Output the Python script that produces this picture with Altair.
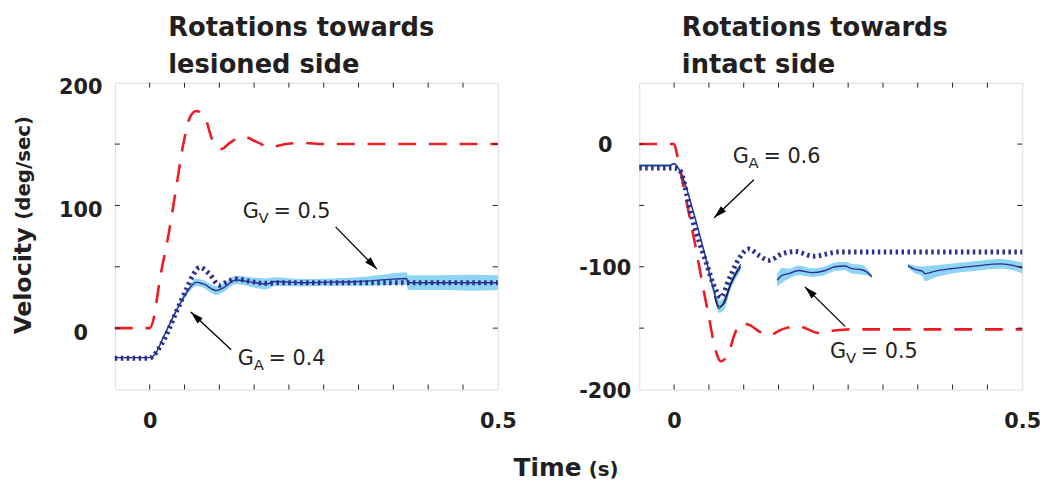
import math
import altair as alt
import pandas as pd

# ---------------- data ----------------
X_DOMAIN = [-0.05, 0.5]
L_DOMAIN = [-50, 200]
R_DOMAIN = [-200, 50]
X_LABELS = [0, 0.5]
L_YLABELS = [0, 100, 200]
R_YLABELS = [-200, -100, 0]
X_TICKS = [0.0, 0.05, 0.1, 0.15, 0.2, 0.25, 0.3, 0.35, 0.4, 0.45]
L_YTICKS = [0, 50, 100, 150]
R_YTICKS = [-150, -100, -50, 0]

# Left panel: rotations towards lesioned side
L_red_t = [-0.05, 0.0, 0.005, 0.015, 0.027, 0.038, 0.048, 0.058, 0.067, 0.079, 0.091, 0.103,
           0.115, 0.134, 0.153, 0.172, 0.196, 0.22, 0.25, 0.5]
L_red_v = [0, 0, 6, 41, 76, 114, 149, 172, 177, 172, 152, 146, 151, 156, 152, 147.5, 150, 151,
           150, 150]

L_dot_t = [-0.05, 0.0, 0.006, 0.02, 0.038, 0.053, 0.062, 0.072, 0.086, 0.1, 0.112, 0.124, 0.145,
           0.165, 0.19, 0.25, 0.35, 0.45, 0.5]
L_dot_v = [-24.5, -24.5, -22, -10, 13, 32, 43, 49.5, 44, 35, 38, 40, 38, 36.5, 37, 37, 37, 37, 37]

L_sol_t = [-0.05, 0.0, 0.008, 0.02, 0.0385, 0.053, 0.067, 0.077, 0.096, 0.107, 0.124, 0.148,
           0.167, 0.181, 0.22, 0.26, 0.3, 0.34, 0.369, 0.371, 0.42, 0.46, 0.5]
L_sol_v = [-24, -24, -21, -7, 14.5, 29, 37.3, 36, 30.6, 33.3, 39.2, 37.3, 36, 38, 37, 37.5, 38,
           39.5, 40.5, 37, 37, 37, 37]
L_sol_sd = [0.5, 0.5, 1, 1.5, 2, 2.5, 3, 3, 3.5, 3.5, 3.5, 4, 4.5, 3.5, 3, 3, 3.5, 4.5, 5, 6, 6,
            6.5, 6]
L_sol_seg = [1] * len(L_sol_t)

# Right panel: rotations towards intact side
R_red_t = [-0.05, 0.0, 0.004, 0.012, 0.022, 0.032, 0.041, 0.05, 0.0575, 0.067, 0.077, 0.0885,
           0.098, 0.11, 0.122, 0.136, 0.155, 0.179, 0.2075, 0.23, 0.255, 0.5]
R_red_v = [0, 0, -8, -30, -58.6, -87, -115, -141, -163, -177, -172, -152.6, -146, -148, -152.7,
           -156, -151, -148.6, -154, -152, -151, -151]

R_dot_t = [-0.05, 0.0, 0.0076, 0.026, 0.0457, 0.06, 0.067, 0.079, 0.093, 0.107, 0.122, 0.136,
           0.155, 0.174, 0.2, 0.236, 0.35, 0.45, 0.5]
R_dot_v = [-19.6, -19.6, -21, -61, -96, -119, -125, -110, -93.5, -85.5, -90.8, -94.8, -89.5,
           -87.6, -91.4, -88, -88, -88, -88]

R_sol_t = [-0.05, -0.007, 0.0, 0.01, 0.0266, 0.0457, 0.0575, 0.0647, 0.0718, 0.081, 0.0956,
           0.148, 0.155, 0.165, 0.179, 0.198, 0.217, 0.231, 0.245, 0.255, 0.27, 0.276, 0.284,
           0.336, 0.345, 0.357, 0.36, 0.374, 0.397, 0.431, 0.469, 0.488, 0.5]
R_sol_v = [-17.5, -17.5, -16, -23.6, -53, -93.5, -120.4, -132.5, -130, -115, -100,
           -111, -107, -105.6, -103, -104.8, -103, -100, -99.4, -101.5, -102.4, -104, -108,
           -99, -102, -103.7, -105.6, -103.7, -101.6, -99.5, -97.6, -99, -101]
R_sol_sd = [1, 1, 1, 1.5, 2, 3, 4, 5, 5, 4, 3,
            5, 6, 4, 4, 3.5, 3.5, 3.5, 3.5, 4, 4, 3, 1.5,
            1.5, 3, 4, 6, 5, 4, 4, 4, 4, 4.5]
R_sol_seg = [1] * 11 + [2] * 12 + [3] * 10

# thin black trace visible along the rebound of the right-hand response
R_blk_t = [0.058, 0.0647, 0.0718, 0.081, 0.0956]
R_blk_v = [-124, -134, -128, -114, -98]

# Annotations (text anchor and arrow tail -> tip, in data units)
L_ann_t = [0.1337, 0.1266]
L_ann_v = [89.8, -29.8]
L_ann_sub = ["V", "A"]
L_ann_val = ["= 0.5", "= 0.4"]
L_arr_t0 = [0.267, 0.117]
L_arr_v0 = [82.5, -17.7]
L_arr_t1 = [0.3264, 0.059]
L_arr_v1 = [48.1, 13.1]

R_ann_t = [0.0842, 0.224]
R_ann_v = [-15.6, -174.2]
R_ann_sub = ["A", "V"]
R_ann_val = ["= 0.6", "= 0.5"]
R_arr_t0 = [0.1146, 0.2455]
R_arr_v0 = [-29.0, -148.6]
R_arr_t1 = [0.0575, 0.188]
R_arr_v1 = [-60.0, -116.4]

L_TITLE = ["Rotations towards", "lesioned side"]
R_TITLE = ["Rotations towards", "intact side"]

# ---------------- styling ----------------
W, H = 387, 310
RED = "#ec1c24"
NAVY = "#2b2f8f"
BAND = "#8dd4f5"
INK = "#231f20"
BOLDFONT = "DejaVu Sans"
ANNFONT = "DejaVu Sans"
ONE = pd.DataFrame({"a": [0]})


def panel(ydom, ylabels, yticks, red, dot, sol, ann, arr, title, title_dx, label_off,
          left=False, black=None):
    xs = alt.Scale(domain=X_DOMAIN, nice=False, zero=False)
    ys = alt.Scale(domain=ydom, nice=False, zero=False)
    xaxis = alt.Axis(values=X_LABELS, labelExpr="'' + datum.value", title=None, grid=False,
                     ticks=False, domain=False, labelFont=BOLDFONT, labelFontWeight="bold",
                     labelFontSize=21, labelPadding=21, labelColor=INK, labelFlush=False)
    yaxis = alt.Axis(values=ylabels, labelExpr="'' + datum.value", title=None, grid=False,
                     ticks=False, domain=False, labelFont=BOLDFONT, labelFontWeight="bold",
                     labelFontSize=21, labelPadding=35, labelAlign="center",
                     labelBaseline="middle", labelOffset=label_off, labelColor=INK)

    def X(f):
        return alt.X(f"{f}:Q", scale=xs, axis=xaxis)

    def Y(f):
        return alt.Y(f"{f}:Q", scale=ys, axis=yaxis)

    red_df = pd.DataFrame({"t": red[0], "v": red[1]})
    dot_df = pd.DataFrame({"t": dot[0], "v": dot[1]})
    sol_df = pd.DataFrame({"t": sol[0], "v": sol[1], "sd": sol[2], "seg": sol[3]})
    sol_df["lo"] = sol_df["v"] - sol_df["sd"]
    sol_df["hi"] = sol_df["v"] + sol_df["sd"]

    band = alt.Chart(sol_df).mark_area(color=BAND, interpolate="monotone").encode(
        x=X("t"), y=Y("lo"), y2="hi", detail="seg:N")
    red_l = alt.Chart(red_df).mark_line(color=RED, strokeWidth=2.6, strokeDash=[18, 13],
                                        interpolate="monotone").encode(x=X("t"), y=Y("v"))
    sol_l = alt.Chart(sol_df).mark_line(color=NAVY, strokeWidth=1.4,
                                        interpolate="monotone").encode(
        x=X("t"), y=Y("v"), detail="seg:N")
    dot_l = alt.Chart(dot_df).mark_line(color=NAVY, strokeWidth=5, strokeDash=[2.5, 3.5],
                                        interpolate="monotone").encode(x=X("t"), y=Y("v"))

    xt_df = pd.DataFrame({"t": X_TICKS})
    yt_df = pd.DataFrame({"v": yticks})
    tb = alt.Chart(xt_df).mark_rule(color=INK, strokeWidth=1).encode(
        x=X("t"), y=alt.value(H), y2=alt.value(H - 5))
    tt = alt.Chart(xt_df).mark_rule(color=INK, strokeWidth=1).encode(
        x=X("t"), y=alt.value(0), y2=alt.value(5))
    tl = alt.Chart(yt_df).mark_rule(color=INK, strokeWidth=1).encode(
        y=Y("v"), x=alt.value(0), x2=alt.value(5))
    tr = alt.Chart(yt_df).mark_rule(color=INK, strokeWidth=1).encode(
        y=Y("v"), x=alt.value(W - 5), x2=alt.value(W))

    ann_df = pd.DataFrame({"t": ann[0], "v": ann[1], "sub": ann[2], "val": ann[3]})
    g_txt = alt.Chart(ann_df).mark_text(align="left", baseline="alphabetic", font=ANNFONT,
                                        fontSize=21, color=INK).encode(
        x=X("t"), y=Y("v"), text=alt.value("G"))
    s_txt = alt.Chart(ann_df).mark_text(align="left", baseline="alphabetic", font=ANNFONT,
                                        fontSize=15, color=INK, dx=16, dy=5).encode(
        x=X("t"), y=Y("v"), text="sub:N")
    v_txt = alt.Chart(ann_df).mark_text(align="left", baseline="alphabetic", font=ANNFONT,
                                        fontSize=21, color=INK, dx=31).encode(
        x=X("t"), y=Y("v"), text="val:N")

    arr_df = pd.DataFrame({"t": arr[0], "v": arr[1], "t2": arr[2], "v2": arr[3]})
    px_t = W / (X_DOMAIN[1] - X_DOMAIN[0])
    px_v = H / (ydom[1] - ydom[0])
    arr_df["ang"] = [
        math.degrees(math.atan2((b - a) * px_t, (d - c) * px_v)) % 360
        for a, b, c, d in zip(arr_df["t"], arr_df["t2"], arr_df["v"], arr_df["v2"])
    ]
    shaft = alt.Chart(arr_df).mark_rule(color="black", strokeWidth=1.3).encode(
        x=X("t"), y=Y("v"), x2="t2", y2="v2")
    head = alt.Chart(arr_df).mark_point(shape="M0,0L0.75,2.6L-0.75,2.6Z", filled=True,
                                        color="black", opacity=1, size=100).encode(
        x=X("t2"), y=Y("v2"), angle=alt.Angle("ang:Q", scale=None))

    ttl = alt.Chart(ONE).mark_text(align="left", baseline="alphabetic", font=BOLDFONT,
                                   fontWeight="bold", fontSize=26, lineHeight=37,
                                   color=INK).encode(
        x=alt.value(title_dx), y=alt.value(-47), text=alt.value(title))

    layers = [band, red_l, sol_l]
    if black is not None:
        blk_df = pd.DataFrame({"t": black[0], "v": black[1]})
        layers.append(alt.Chart(blk_df).mark_line(color="black", strokeWidth=1,
                                                  interpolate="monotone").encode(
            x=X("t"), y=Y("v")))
    layers += [dot_l, tb, tt, tl, tr, shaft, head, g_txt, s_txt, v_txt, ttl]

    if left:
        vel = alt.Chart(ONE).mark_text(angle=270, align="center", baseline="alphabetic",
                                       font=BOLDFONT, fontWeight="bold", fontSize=24,
                                       color=INK).encode(
            x=alt.value(-85), y=alt.value(200), text=alt.value("Velocity"))
        unit = alt.Chart(ONE).mark_text(angle=270, align="center", baseline="alphabetic",
                                        font=BOLDFONT, fontWeight="bold", fontSize=20,
                                        color=INK).encode(
            x=alt.value(-86), y=alt.value(86), text=alt.value("(deg/sec)"))
        time = alt.Chart(ONE).mark_text(align="left", baseline="alphabetic", font=BOLDFONT,
                                        fontWeight="bold", fontSize=25, color=INK).encode(
            x=alt.value(403), y=alt.value(397), text=alt.value("Time"))
        secs = alt.Chart(ONE).mark_text(align="left", baseline="alphabetic", font=BOLDFONT,
                                        fontWeight="bold", fontSize=20, color=INK).encode(
            x=alt.value(479), y=alt.value(397), text=alt.value("(s)"))
        layers += [vel, unit, time, secs]

    return alt.layer(*layers).properties(width=W, height=H)


left = panel(L_DOMAIN, L_YLABELS, L_YTICKS,
             (L_red_t, L_red_v), (L_dot_t, L_dot_v), (L_sol_t, L_sol_v, L_sol_sd, L_sol_seg),
             (L_ann_t, L_ann_v, L_ann_sub, L_ann_val),
             (L_arr_t0, L_arr_v0, L_arr_t1, L_arr_v1), L_TITLE, 54, 5, left=True)
right = panel(R_DOMAIN, R_YLABELS, R_YTICKS,
              (R_red_t, R_red_v), (R_dot_t, R_dot_v), (R_sol_t, R_sol_v, R_sol_sd, R_sol_seg),
              (R_ann_t, R_ann_v, R_ann_sub, R_ann_val),
              (R_arr_t0, R_arr_v0, R_arr_t1, R_arr_v1), R_TITLE, 43, 2,
              black=(R_blk_t, R_blk_v))

chart = alt.hconcat(left, right, spacing=143, bounds="flush").properties(
    padding={"left": 3, "top": 4, "right": 0, "bottom": 0}
).configure_view(stroke=INK, strokeWidth=1.5).configure(background="white")

chart.save("out.html", embed_options={"renderer": "svg", "actions": False})
